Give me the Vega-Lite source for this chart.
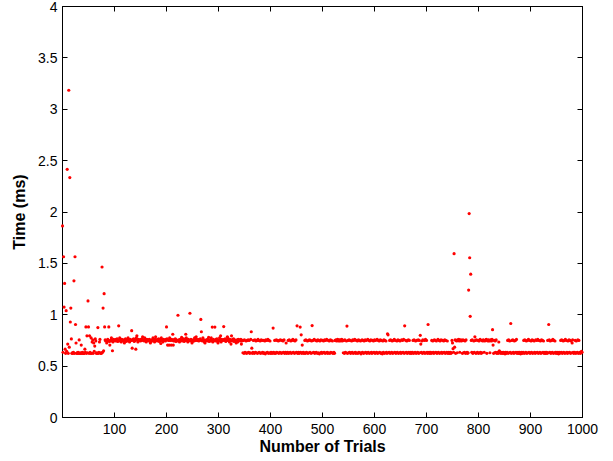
{
"$schema": "https://vega.github.io/schema/vega-lite/v6.json",
"width": 520, "height": 411,
"autosize": {"type": "none"},
"padding": {"left": 62, "top": 6, "right": 31, "bottom": 44},
"background": "white",
"config": {
  "view": {"stroke": "#000", "strokeWidth": 1},
  "axis": {"grid": false, "domainColor": "#000", "tickColor": "#000", "labelColor": "#000", "titleColor": "#000",
    "labelFont": "Liberation Sans", "labelFontSize": 14, "titleFont": "Liberation Sans", "titleFontSize": 16, "titleFontWeight": "bold",
    "tickSize": -5, "labelPadding": 10, "labelFlush": false, "labelOverlap": false}
},
"data": {"values": [
{"n":1,"ms":1.86},{"n":2,"ms":0.63},{"n":3,"ms":1.56},{"n":4,"ms":1.07},{"n":5,"ms":1.30},{"n":6,"ms":0.66},{"n":7,"ms":0.62},{"n":8,"ms":1.035},{"n":9,"ms":0.64},{"n":10,"ms":2.41},
{"n":11,"ms":0.71},{"n":12,"ms":0.62},{"n":13,"ms":3.18},{"n":14,"ms":0.68},{"n":15,"ms":2.33},{"n":16,"ms":0.925},{"n":17,"ms":1.06},{"n":18,"ms":0.76},{"n":19,"ms":0.62},{"n":20,"ms":0.625},
{"n":21,"ms":0.62},{"n":22,"ms":0.63},{"n":23,"ms":1.325},{"n":24,"ms":0.62},{"n":25,"ms":1.56},{"n":26,"ms":0.90},{"n":27,"ms":0.72},{"n":28,"ms":0.62},{"n":29,"ms":0.625},{"n":30,"ms":0.62},
{"n":31,"ms":0.63},{"n":32,"ms":0.62},{"n":33,"ms":0.75},{"n":34,"ms":0.62},{"n":35,"ms":0.625},{"n":36,"ms":0.62},{"n":37,"ms":0.70},{"n":38,"ms":0.62},{"n":39,"ms":0.63},{"n":40,"ms":0.62},
{"n":41,"ms":0.625},{"n":42,"ms":0.62},{"n":43,"ms":0.62},{"n":44,"ms":0.66},{"n":45,"ms":0.63},{"n":46,"ms":0.877},{"n":47,"ms":0.62},{"n":48,"ms":0.79},{"n":49,"ms":0.625},{"n":50,"ms":1.13},
{"n":51,"ms":0.877},{"n":52,"ms":0.62},{"n":53,"ms":0.79},{"n":54,"ms":0.63},{"n":55,"ms":0.62},{"n":56,"ms":0.77},{"n":57,"ms":0.62},{"n":58,"ms":0.73},{"n":59,"ms":0.75},{"n":60,"ms":0.62},
{"n":61,"ms":0.72},{"n":62,"ms":0.64},{"n":63,"ms":0.69},{"n":64,"ms":0.76},{"n":65,"ms":0.74},{"n":66,"ms":0.62},{"n":67,"ms":0.625},{"n":68,"ms":0.62},{"n":69,"ms":0.87},{"n":70,"ms":0.62},
{"n":71,"ms":0.63},{"n":72,"ms":0.73},{"n":73,"ms":0.755},{"n":74,"ms":0.62},{"n":75,"ms":0.625},{"n":76,"ms":0.62},{"n":77,"ms":1.46},{"n":78,"ms":0.63},{"n":79,"ms":1.06},{"n":80,"ms":0.645},
{"n":81,"ms":1.20},{"n":82,"ms":0.877},{"n":83,"ms":0.75},{"n":84,"ms":0.74},{"n":85,"ms":0.745},{"n":86,"ms":0.72},{"n":87,"ms":0.74},{"n":88,"ms":0.755},{"n":89,"ms":0.745},{"n":90,"ms":0.877},
{"n":91,"ms":0.735},{"n":92,"ms":0.70},{"n":93,"ms":0.745},{"n":94,"ms":0.74},{"n":95,"ms":0.77},{"n":96,"ms":0.745},{"n":97,"ms":0.645},{"n":98,"ms":0.73},{"n":99,"ms":0.755},{"n":100,"ms":0.745},
{"n":101,"ms":0.745},{"n":102,"ms":0.75},{"n":103,"ms":0.74},{"n":104,"ms":0.755},{"n":105,"ms":0.745},{"n":106,"ms":0.76},{"n":107,"ms":0.735},{"n":108,"ms":0.75},{"n":109,"ms":0.887},{"n":110,"ms":0.74},
{"n":111,"ms":0.77},{"n":112,"ms":0.745},{"n":113,"ms":0.75},{"n":114,"ms":0.73},{"n":115,"ms":0.755},{"n":116,"ms":0.745},{"n":117,"ms":0.745},{"n":118,"ms":0.75},{"n":119,"ms":0.74},{"n":120,"ms":0.72},
{"n":121,"ms":0.745},{"n":122,"ms":0.76},{"n":123,"ms":0.735},{"n":124,"ms":0.75},{"n":125,"ms":0.745},{"n":126,"ms":0.74},{"n":127,"ms":0.77},{"n":128,"ms":0.745},{"n":129,"ms":0.75},{"n":130,"ms":0.73},
{"n":131,"ms":0.755},{"n":132,"ms":0.745},{"n":133,"ms":0.745},{"n":134,"ms":0.84},{"n":135,"ms":0.67},{"n":136,"ms":0.755},{"n":137,"ms":0.745},{"n":138,"ms":0.76},{"n":139,"ms":0.735},{"n":140,"ms":0.75},
{"n":141,"ms":0.745},{"n":142,"ms":0.66},{"n":143,"ms":0.77},{"n":144,"ms":0.79},{"n":145,"ms":0.75},{"n":146,"ms":0.73},{"n":147,"ms":0.755},{"n":148,"ms":0.745},{"n":149,"ms":0.745},{"n":150,"ms":0.75},
{"n":151,"ms":0.74},{"n":152,"ms":0.755},{"n":153,"ms":0.745},{"n":154,"ms":0.76},{"n":155,"ms":0.78},{"n":156,"ms":0.75},{"n":157,"ms":0.745},{"n":158,"ms":0.74},{"n":159,"ms":0.77},{"n":160,"ms":0.745},
{"n":161,"ms":0.75},{"n":162,"ms":0.73},{"n":163,"ms":0.755},{"n":164,"ms":0.745},{"n":165,"ms":0.745},{"n":166,"ms":0.75},{"n":167,"ms":0.74},{"n":168,"ms":0.755},{"n":169,"ms":0.745},{"n":170,"ms":0.72},
{"n":171,"ms":0.735},{"n":172,"ms":0.75},{"n":173,"ms":0.745},{"n":174,"ms":0.74},{"n":175,"ms":0.77},{"n":176,"ms":0.745},{"n":177,"ms":0.75},{"n":178,"ms":0.73},{"n":179,"ms":0.755},{"n":180,"ms":0.78},
{"n":181,"ms":0.745},{"n":182,"ms":0.75},{"n":183,"ms":0.74},{"n":184,"ms":0.755},{"n":185,"ms":0.745},{"n":186,"ms":0.76},{"n":187,"ms":0.735},{"n":188,"ms":0.75},{"n":189,"ms":0.745},{"n":190,"ms":0.715},
{"n":191,"ms":0.77},{"n":192,"ms":0.745},{"n":193,"ms":0.75},{"n":194,"ms":0.73},{"n":195,"ms":0.755},{"n":196,"ms":0.745},{"n":197,"ms":0.745},{"n":198,"ms":0.75},{"n":199,"ms":0.74},{"n":200,"ms":0.755},
{"n":201,"ms":0.877},{"n":202,"ms":0.76},{"n":203,"ms":0.70},{"n":204,"ms":0.75},{"n":205,"ms":0.745},{"n":206,"ms":0.70},{"n":207,"ms":0.77},{"n":208,"ms":0.745},{"n":209,"ms":0.75},{"n":210,"ms":0.70},
{"n":211,"ms":0.755},{"n":212,"ms":0.745},{"n":213,"ms":0.805},{"n":214,"ms":0.70},{"n":215,"ms":0.74},{"n":216,"ms":0.755},{"n":217,"ms":0.745},{"n":218,"ms":0.76},{"n":219,"ms":0.735},{"n":220,"ms":0.75},
{"n":221,"ms":0.745},{"n":222,"ms":0.74},{"n":223,"ms":0.99},{"n":224,"ms":0.745},{"n":225,"ms":0.75},{"n":226,"ms":0.73},{"n":227,"ms":0.755},{"n":228,"ms":0.745},{"n":229,"ms":0.745},{"n":230,"ms":0.775},
{"n":231,"ms":0.74},{"n":232,"ms":0.755},{"n":233,"ms":0.745},{"n":234,"ms":0.76},{"n":235,"ms":0.735},{"n":236,"ms":0.75},{"n":237,"ms":0.745},{"n":238,"ms":0.805},{"n":239,"ms":0.77},{"n":240,"ms":0.745},
{"n":241,"ms":0.75},{"n":242,"ms":0.73},{"n":243,"ms":0.755},{"n":244,"ms":0.745},{"n":245,"ms":0.745},{"n":246,"ms":1.01},{"n":247,"ms":0.74},{"n":248,"ms":0.755},{"n":249,"ms":0.745},{"n":250,"ms":0.72},
{"n":251,"ms":0.735},{"n":252,"ms":0.75},{"n":253,"ms":0.745},{"n":254,"ms":0.74},{"n":255,"ms":0.77},{"n":256,"ms":0.745},{"n":257,"ms":0.75},{"n":258,"ms":0.78},{"n":259,"ms":0.755},{"n":260,"ms":0.745},
{"n":261,"ms":0.745},{"n":262,"ms":0.75},{"n":263,"ms":0.74},{"n":264,"ms":0.755},{"n":265,"ms":0.745},{"n":266,"ms":0.76},{"n":267,"ms":0.95},{"n":268,"ms":0.83},{"n":269,"ms":0.745},{"n":270,"ms":0.74},
{"n":271,"ms":0.77},{"n":272,"ms":0.745},{"n":273,"ms":0.75},{"n":274,"ms":0.73},{"n":275,"ms":0.72},{"n":276,"ms":0.745},{"n":277,"ms":0.745},{"n":278,"ms":0.75},{"n":279,"ms":0.74},{"n":280,"ms":0.755},
{"n":281,"ms":0.745},{"n":282,"ms":0.775},{"n":283,"ms":0.735},{"n":284,"ms":0.75},{"n":285,"ms":0.745},{"n":286,"ms":0.74},{"n":287,"ms":0.77},{"n":288,"ms":0.745},{"n":289,"ms":0.875},{"n":290,"ms":0.73},
{"n":291,"ms":0.755},{"n":292,"ms":0.745},{"n":293,"ms":0.745},{"n":294,"ms":0.875},{"n":295,"ms":0.74},{"n":296,"ms":0.755},{"n":297,"ms":0.745},{"n":298,"ms":0.76},{"n":299,"ms":0.735},{"n":300,"ms":0.72},
{"n":301,"ms":0.745},{"n":302,"ms":0.74},{"n":303,"ms":0.77},{"n":304,"ms":0.745},{"n":305,"ms":0.79},{"n":306,"ms":0.73},{"n":307,"ms":0.755},{"n":308,"ms":0.745},{"n":309,"ms":0.745},{"n":310,"ms":0.75},
{"n":311,"ms":0.88},{"n":312,"ms":0.755},{"n":313,"ms":0.745},{"n":314,"ms":0.76},{"n":315,"ms":0.735},{"n":316,"ms":0.75},{"n":317,"ms":0.745},{"n":318,"ms":0.78},{"n":319,"ms":0.77},{"n":320,"ms":0.745},
{"n":321,"ms":0.75},{"n":322,"ms":0.73},{"n":323,"ms":0.755},{"n":324,"ms":0.745},{"n":325,"ms":0.71},{"n":326,"ms":0.79},{"n":327,"ms":0.74},{"n":328,"ms":0.755},{"n":329,"ms":0.745},{"n":330,"ms":0.76},
{"n":331,"ms":0.735},{"n":332,"ms":0.75},{"n":333,"ms":0.745},{"n":334,"ms":0.74},{"n":335,"ms":0.72},{"n":336,"ms":0.745},{"n":337,"ms":0.75},{"n":338,"ms":0.73},{"n":339,"ms":0.755},{"n":340,"ms":0.745},
{"n":341,"ms":0.745},{"n":342,"ms":0.75},{"n":343,"ms":0.74},{"n":344,"ms":0.755},{"n":345,"ms":0.71},{"n":346,"ms":0.74},{"n":347,"ms":0.745},{"n":348,"ms":0.625},{"n":349,"ms":0.745},{"n":350,"ms":0.62},
{"n":351,"ms":0.75},{"n":352,"ms":0.63},{"n":353,"ms":0.625},{"n":354,"ms":0.74},{"n":355,"ms":0.62},{"n":356,"ms":0.745},{"n":357,"ms":0.625},{"n":358,"ms":0.75},{"n":359,"ms":0.63},{"n":360,"ms":0.745},
{"n":361,"ms":0.62},{"n":362,"ms":0.625},{"n":363,"ms":0.755},{"n":364,"ms":0.83},{"n":365,"ms":0.67},{"n":366,"ms":0.62},{"n":367,"ms":0.63},{"n":368,"ms":0.745},{"n":369,"ms":0.625},{"n":370,"ms":0.62},
{"n":371,"ms":0.75},{"n":372,"ms":0.63},{"n":373,"ms":0.74},{"n":374,"ms":0.625},{"n":375,"ms":0.745},{"n":376,"ms":0.62},{"n":377,"ms":0.755},{"n":378,"ms":0.745},{"n":379,"ms":0.63},{"n":380,"ms":0.625},
{"n":381,"ms":0.74},{"n":382,"ms":0.62},{"n":383,"ms":0.75},{"n":384,"ms":0.625},{"n":385,"ms":0.745},{"n":386,"ms":0.63},{"n":387,"ms":0.62},{"n":388,"ms":0.745},{"n":389,"ms":0.625},{"n":390,"ms":0.74},
{"n":391,"ms":0.615},{"n":392,"ms":0.75},{"n":393,"ms":0.625},{"n":394,"ms":0.745},{"n":395,"ms":0.63},{"n":396,"ms":0.755},{"n":397,"ms":0.62},{"n":398,"ms":0.745},{"n":399,"ms":0.625},{"n":400,"ms":0.74},
{"n":401,"ms":0.62},{"n":402,"ms":0.63},{"n":403,"ms":0.625},{"n":404,"ms":0.62},{"n":405,"ms":0.625},{"n":406,"ms":0.865},{"n":407,"ms":0.63},{"n":408,"ms":0.62},{"n":409,"ms":0.745},{"n":410,"ms":0.625},
{"n":411,"ms":0.62},{"n":412,"ms":0.75},{"n":413,"ms":0.63},{"n":414,"ms":0.745},{"n":415,"ms":0.625},{"n":416,"ms":0.74},{"n":417,"ms":0.62},{"n":418,"ms":0.745},{"n":419,"ms":0.63},{"n":420,"ms":0.75},
{"n":421,"ms":0.625},{"n":422,"ms":0.62},{"n":423,"ms":0.745},{"n":424,"ms":0.625},{"n":425,"ms":0.74},{"n":426,"ms":0.63},{"n":427,"ms":0.75},{"n":428,"ms":0.62},{"n":429,"ms":0.625},{"n":430,"ms":0.63},
{"n":431,"ms":0.72},{"n":432,"ms":0.62},{"n":433,"ms":0.625},{"n":434,"ms":0.63},{"n":435,"ms":0.745},{"n":436,"ms":0.62},{"n":437,"ms":0.75},{"n":438,"ms":0.625},{"n":439,"ms":0.63},{"n":440,"ms":0.74},
{"n":441,"ms":0.62},{"n":442,"ms":0.745},{"n":443,"ms":0.625},{"n":444,"ms":0.755},{"n":445,"ms":0.63},{"n":446,"ms":0.745},{"n":447,"ms":0.62},{"n":448,"ms":0.74},{"n":449,"ms":0.625},{"n":450,"ms":0.75},
{"n":451,"ms":0.63},{"n":452,"ms":0.887},{"n":453,"ms":0.62},{"n":454,"ms":0.625},{"n":455,"ms":0.63},{"n":456,"ms":0.62},{"n":457,"ms":0.625},{"n":458,"ms":0.875},{"n":459,"ms":0.63},{"n":460,"ms":0.80},
{"n":461,"ms":0.62},{"n":462,"ms":0.70},{"n":463,"ms":0.625},{"n":464,"ms":0.63},{"n":465,"ms":0.62},{"n":466,"ms":0.625},{"n":467,"ms":0.745},{"n":468,"ms":0.62},{"n":469,"ms":0.75},{"n":470,"ms":0.63},
{"n":471,"ms":0.625},{"n":472,"ms":0.74},{"n":473,"ms":0.62},{"n":474,"ms":0.745},{"n":475,"ms":0.625},{"n":476,"ms":0.75},{"n":477,"ms":0.63},{"n":478,"ms":0.745},{"n":479,"ms":0.62},{"n":480,"ms":0.74},
{"n":481,"ms":0.89},{"n":482,"ms":0.625},{"n":483,"ms":0.745},{"n":484,"ms":0.63},{"n":485,"ms":0.755},{"n":486,"ms":0.62},{"n":487,"ms":0.625},{"n":488,"ms":0.745},{"n":489,"ms":0.63},{"n":490,"ms":0.74},
{"n":491,"ms":0.62},{"n":492,"ms":0.75},{"n":493,"ms":0.625},{"n":494,"ms":0.745},{"n":495,"ms":0.615},{"n":496,"ms":0.74},{"n":497,"ms":0.625},{"n":498,"ms":0.75},{"n":499,"ms":0.63},{"n":500,"ms":0.62},
{"n":501,"ms":0.745},{"n":502,"ms":0.625},{"n":503,"ms":0.74},{"n":504,"ms":0.63},{"n":505,"ms":0.75},{"n":506,"ms":0.62},{"n":507,"ms":0.745},{"n":508,"ms":0.625},{"n":509,"ms":0.755},{"n":510,"ms":0.63},
{"n":511,"ms":0.62},{"n":512,"ms":0.745},{"n":513,"ms":0.625},{"n":514,"ms":0.74},{"n":515,"ms":0.62},{"n":516,"ms":0.75},{"n":517,"ms":0.63},{"n":518,"ms":0.745},{"n":519,"ms":0.625},{"n":520,"ms":0.74},
{"n":521,"ms":0.62},{"n":522,"ms":0.625},{"n":523,"ms":0.63},{"n":524,"ms":0.62},{"n":525,"ms":0.745},{"n":526,"ms":0.745},{"n":527,"ms":0.75},{"n":528,"ms":0.74},{"n":529,"ms":0.745},{"n":530,"ms":0.755},
{"n":531,"ms":0.745},{"n":532,"ms":0.74},{"n":533,"ms":0.75},{"n":534,"ms":0.745},{"n":535,"ms":0.74},{"n":536,"ms":0.75},{"n":537,"ms":0.745},{"n":538,"ms":0.755},{"n":539,"ms":0.74},{"n":540,"ms":0.745},
{"n":541,"ms":0.625},{"n":542,"ms":0.745},{"n":543,"ms":0.62},{"n":544,"ms":0.75},{"n":545,"ms":0.63},{"n":546,"ms":0.625},{"n":547,"ms":0.74},{"n":548,"ms":0.885},{"n":549,"ms":0.62},{"n":550,"ms":0.745},
{"n":551,"ms":0.625},{"n":552,"ms":0.75},{"n":553,"ms":0.63},{"n":554,"ms":0.745},{"n":555,"ms":0.62},{"n":556,"ms":0.625},{"n":557,"ms":0.74},{"n":558,"ms":0.63},{"n":559,"ms":0.75},{"n":560,"ms":0.62},
{"n":561,"ms":0.745},{"n":562,"ms":0.625},{"n":563,"ms":0.755},{"n":564,"ms":0.63},{"n":565,"ms":0.62},{"n":566,"ms":0.745},{"n":567,"ms":0.625},{"n":568,"ms":0.74},{"n":569,"ms":0.62},{"n":570,"ms":0.75},
{"n":571,"ms":0.63},{"n":572,"ms":0.745},{"n":573,"ms":0.625},{"n":574,"ms":0.74},{"n":575,"ms":0.615},{"n":576,"ms":0.625},{"n":577,"ms":0.75},{"n":578,"ms":0.63},{"n":579,"ms":0.745},{"n":580,"ms":0.62},
{"n":581,"ms":0.74},{"n":582,"ms":0.625},{"n":583,"ms":0.75},{"n":584,"ms":0.63},{"n":585,"ms":0.745},{"n":586,"ms":0.62},{"n":587,"ms":0.625},{"n":588,"ms":0.755},{"n":589,"ms":0.63},{"n":590,"ms":0.745},
{"n":591,"ms":0.62},{"n":592,"ms":0.74},{"n":593,"ms":0.625},{"n":594,"ms":0.75},{"n":595,"ms":0.63},{"n":596,"ms":0.62},{"n":597,"ms":0.745},{"n":598,"ms":0.625},{"n":599,"ms":0.74},{"n":600,"ms":0.63},
{"n":601,"ms":0.75},{"n":602,"ms":0.62},{"n":603,"ms":0.745},{"n":604,"ms":0.625},{"n":605,"ms":0.63},{"n":606,"ms":0.755},{"n":607,"ms":0.62},{"n":608,"ms":0.745},{"n":609,"ms":0.625},{"n":610,"ms":0.74},
{"n":611,"ms":0.63},{"n":612,"ms":0.75},{"n":613,"ms":0.62},{"n":614,"ms":0.745},{"n":615,"ms":0.625},{"n":616,"ms":0.615},{"n":617,"ms":0.74},{"n":618,"ms":0.63},{"n":619,"ms":0.75},{"n":620,"ms":0.62},
{"n":621,"ms":0.745},{"n":622,"ms":0.625},{"n":623,"ms":0.74},{"n":624,"ms":0.63},{"n":625,"ms":0.62},{"n":626,"ms":0.81},{"n":627,"ms":0.80},{"n":628,"ms":0.625},{"n":629,"ms":0.63},{"n":630,"ms":0.745},
{"n":631,"ms":0.62},{"n":632,"ms":0.75},{"n":633,"ms":0.625},{"n":634,"ms":0.63},{"n":635,"ms":0.74},{"n":636,"ms":0.62},{"n":637,"ms":0.745},{"n":638,"ms":0.625},{"n":639,"ms":0.755},{"n":640,"ms":0.63},
{"n":641,"ms":0.745},{"n":642,"ms":0.62},{"n":643,"ms":0.625},{"n":644,"ms":0.74},{"n":645,"ms":0.63},{"n":646,"ms":0.75},{"n":647,"ms":0.62},{"n":648,"ms":0.745},{"n":649,"ms":0.625},{"n":650,"ms":0.74},
{"n":651,"ms":0.63},{"n":652,"ms":0.62},{"n":653,"ms":0.75},{"n":654,"ms":0.625},{"n":655,"ms":0.745},{"n":656,"ms":0.63},{"n":657,"ms":0.755},{"n":658,"ms":0.62},{"n":659,"ms":0.887},{"n":660,"ms":0.625},
{"n":661,"ms":0.745},{"n":662,"ms":0.63},{"n":663,"ms":0.74},{"n":664,"ms":0.62},{"n":665,"ms":0.625},{"n":666,"ms":0.75},{"n":667,"ms":0.63},{"n":668,"ms":0.745},{"n":669,"ms":0.62},{"n":670,"ms":0.625},
{"n":671,"ms":0.63},{"n":672,"ms":0.62},{"n":673,"ms":0.625},{"n":674,"ms":0.63},{"n":675,"ms":0.745},{"n":676,"ms":0.62},{"n":677,"ms":0.75},{"n":678,"ms":0.625},{"n":679,"ms":0.63},{"n":680,"ms":0.74},
{"n":681,"ms":0.62},{"n":682,"ms":0.745},{"n":683,"ms":0.625},{"n":684,"ms":0.63},{"n":685,"ms":0.75},{"n":686,"ms":0.62},{"n":687,"ms":0.745},{"n":688,"ms":0.625},{"n":689,"ms":0.795},{"n":690,"ms":0.71},
{"n":691,"ms":0.63},{"n":692,"ms":0.74},{"n":693,"ms":0.62},{"n":694,"ms":0.75},{"n":695,"ms":0.625},{"n":696,"ms":0.63},{"n":697,"ms":0.745},{"n":698,"ms":0.62},{"n":699,"ms":0.755},{"n":700,"ms":0.625},
{"n":701,"ms":0.745},{"n":702,"ms":0.63},{"n":703,"ms":0.62},{"n":704,"ms":0.90},{"n":705,"ms":0.625},{"n":706,"ms":0.63},{"n":707,"ms":0.62},{"n":708,"ms":0.625},{"n":709,"ms":0.63},{"n":710,"ms":0.62},
{"n":711,"ms":0.745},{"n":712,"ms":0.625},{"n":713,"ms":0.74},{"n":714,"ms":0.63},{"n":715,"ms":0.62},{"n":716,"ms":0.75},{"n":717,"ms":0.625},{"n":718,"ms":0.745},{"n":719,"ms":0.63},{"n":720,"ms":0.74},
{"n":721,"ms":0.62},{"n":722,"ms":0.625},{"n":723,"ms":0.755},{"n":724,"ms":0.63},{"n":725,"ms":0.745},{"n":726,"ms":0.62},{"n":727,"ms":0.74},{"n":728,"ms":0.625},{"n":729,"ms":0.75},{"n":730,"ms":0.63},
{"n":731,"ms":0.62},{"n":732,"ms":0.745},{"n":733,"ms":0.625},{"n":734,"ms":0.74},{"n":735,"ms":0.63},{"n":736,"ms":0.75},{"n":737,"ms":0.62},{"n":738,"ms":0.745},{"n":739,"ms":0.625},{"n":740,"ms":0.63},
{"n":741,"ms":0.74},{"n":742,"ms":0.62},{"n":743,"ms":0.625},{"n":744,"ms":0.63},{"n":745,"ms":0.62},{"n":746,"ms":0.625},{"n":747,"ms":0.63},{"n":748,"ms":0.62},{"n":749,"ms":0.625},{"n":750,"ms":0.745},
{"n":751,"ms":0.72},{"n":752,"ms":0.665},{"n":753,"ms":0.63},{"n":754,"ms":1.59},{"n":755,"ms":0.68},{"n":756,"ms":0.75},{"n":757,"ms":0.62},{"n":758,"ms":0.745},{"n":759,"ms":0.74},{"n":760,"ms":0.625},
{"n":761,"ms":0.75},{"n":762,"ms":0.745},{"n":763,"ms":0.755},{"n":764,"ms":0.74},{"n":765,"ms":0.63},{"n":766,"ms":0.745},{"n":767,"ms":0.75},{"n":768,"ms":0.74},{"n":769,"ms":0.745},{"n":770,"ms":0.62},
{"n":771,"ms":0.75},{"n":772,"ms":0.625},{"n":773,"ms":0.745},{"n":774,"ms":0.63},{"n":775,"ms":0.74},{"n":776,"ms":0.62},{"n":777,"ms":0.75},{"n":778,"ms":0.625},{"n":779,"ms":0.63},{"n":780,"ms":0.62},
{"n":781,"ms":0.625},{"n":782,"ms":1.235},{"n":783,"ms":1.98},{"n":784,"ms":1.55},{"n":785,"ms":0.98},{"n":786,"ms":1.39},{"n":787,"ms":0.745},{"n":788,"ms":0.63},{"n":789,"ms":0.75},{"n":790,"ms":0.62},
{"n":791,"ms":0.625},{"n":792,"ms":0.74},{"n":793,"ms":0.63},{"n":794,"ms":0.78},{"n":795,"ms":0.745},{"n":796,"ms":0.62},{"n":797,"ms":0.75},{"n":798,"ms":0.625},{"n":799,"ms":0.63},{"n":800,"ms":0.745},
{"n":801,"ms":0.62},{"n":802,"ms":0.74},{"n":803,"ms":0.625},{"n":804,"ms":0.755},{"n":805,"ms":0.63},{"n":806,"ms":0.62},{"n":807,"ms":0.745},{"n":808,"ms":0.625},{"n":809,"ms":0.74},{"n":810,"ms":0.75},
{"n":811,"ms":0.745},{"n":812,"ms":0.63},{"n":813,"ms":0.74},{"n":814,"ms":0.745},{"n":815,"ms":0.75},{"n":816,"ms":0.755},{"n":817,"ms":0.62},{"n":818,"ms":0.745},{"n":819,"ms":0.74},{"n":820,"ms":0.75},
{"n":821,"ms":0.745},{"n":822,"ms":0.74},{"n":823,"ms":0.625},{"n":824,"ms":0.75},{"n":825,"ms":0.745},{"n":826,"ms":0.74},{"n":827,"ms":0.755},{"n":828,"ms":0.85},{"n":829,"ms":0.70},{"n":830,"ms":0.62},
{"n":831,"ms":0.745},{"n":832,"ms":0.625},{"n":833,"ms":0.74},{"n":834,"ms":0.63},{"n":835,"ms":0.75},{"n":836,"ms":0.62},{"n":837,"ms":0.625},{"n":838,"ms":0.63},{"n":839,"ms":0.62},{"n":840,"ms":0.73},
{"n":841,"ms":0.645},{"n":842,"ms":0.625},{"n":843,"ms":0.63},{"n":844,"ms":0.62},{"n":845,"ms":0.625},{"n":846,"ms":0.63},{"n":847,"ms":0.62},{"n":848,"ms":0.625},{"n":849,"ms":0.63},{"n":850,"ms":0.62},
{"n":851,"ms":0.625},{"n":852,"ms":0.615},{"n":853,"ms":0.63},{"n":854,"ms":0.62},{"n":855,"ms":0.625},{"n":856,"ms":0.63},{"n":857,"ms":0.745},{"n":858,"ms":0.62},{"n":859,"ms":0.75},{"n":860,"ms":0.625},
{"n":861,"ms":0.74},{"n":862,"ms":0.63},{"n":863,"ms":0.91},{"n":864,"ms":0.62},{"n":865,"ms":0.745},{"n":866,"ms":0.625},{"n":867,"ms":0.75},{"n":868,"ms":0.63},{"n":869,"ms":0.62},{"n":870,"ms":0.74},
{"n":871,"ms":0.625},{"n":872,"ms":0.745},{"n":873,"ms":0.63},{"n":874,"ms":0.755},{"n":875,"ms":0.62},{"n":876,"ms":0.625},{"n":877,"ms":0.63},{"n":878,"ms":0.62},{"n":879,"ms":0.625},{"n":880,"ms":0.63},
{"n":881,"ms":0.62},{"n":882,"ms":0.615},{"n":883,"ms":0.625},{"n":884,"ms":0.63},{"n":885,"ms":0.62},{"n":886,"ms":0.625},{"n":887,"ms":0.63},{"n":888,"ms":0.745},{"n":889,"ms":0.62},{"n":890,"ms":0.75},
{"n":891,"ms":0.625},{"n":892,"ms":0.63},{"n":893,"ms":0.74},{"n":894,"ms":0.62},{"n":895,"ms":0.745},{"n":896,"ms":0.625},{"n":897,"ms":0.755},{"n":898,"ms":0.63},{"n":899,"ms":0.745},{"n":900,"ms":0.62},
{"n":901,"ms":0.625},{"n":902,"ms":0.74},{"n":903,"ms":0.63},{"n":904,"ms":0.75},{"n":905,"ms":0.62},{"n":906,"ms":0.745},{"n":907,"ms":0.625},{"n":908,"ms":0.74},{"n":909,"ms":0.63},{"n":910,"ms":0.62},
{"n":911,"ms":0.75},{"n":912,"ms":0.625},{"n":913,"ms":0.745},{"n":914,"ms":0.63},{"n":915,"ms":0.755},{"n":916,"ms":0.62},{"n":917,"ms":0.745},{"n":918,"ms":0.625},{"n":919,"ms":0.63},{"n":920,"ms":0.74},
{"n":921,"ms":0.62},{"n":922,"ms":0.75},{"n":923,"ms":0.625},{"n":924,"ms":0.745},{"n":925,"ms":0.63},{"n":926,"ms":0.74},{"n":927,"ms":0.62},{"n":928,"ms":0.625},{"n":929,"ms":0.63},{"n":930,"ms":0.62},
{"n":931,"ms":0.625},{"n":932,"ms":0.63},{"n":933,"ms":0.62},{"n":934,"ms":0.745},{"n":935,"ms":0.625},{"n":936,"ms":0.90},{"n":937,"ms":0.75},{"n":938,"ms":0.63},{"n":939,"ms":0.74},{"n":940,"ms":0.62},
{"n":941,"ms":0.625},{"n":942,"ms":0.745},{"n":943,"ms":0.63},{"n":944,"ms":0.755},{"n":945,"ms":0.62},{"n":946,"ms":0.745},{"n":947,"ms":0.625},{"n":948,"ms":0.74},{"n":949,"ms":0.63},{"n":950,"ms":0.62},
{"n":951,"ms":0.625},{"n":952,"ms":0.63},{"n":953,"ms":0.62},{"n":954,"ms":0.625},{"n":955,"ms":0.615},{"n":956,"ms":0.63},{"n":957,"ms":0.62},{"n":958,"ms":0.625},{"n":959,"ms":0.745},{"n":960,"ms":0.63},
{"n":961,"ms":0.75},{"n":962,"ms":0.62},{"n":963,"ms":0.625},{"n":964,"ms":0.74},{"n":965,"ms":0.63},{"n":966,"ms":0.745},{"n":967,"ms":0.62},{"n":968,"ms":0.755},{"n":969,"ms":0.625},{"n":970,"ms":0.745},
{"n":971,"ms":0.63},{"n":972,"ms":0.62},{"n":973,"ms":0.74},{"n":974,"ms":0.625},{"n":975,"ms":0.75},{"n":976,"ms":0.63},{"n":977,"ms":0.745},{"n":978,"ms":0.62},{"n":979,"ms":0.74},{"n":980,"ms":0.625},
{"n":981,"ms":0.72},{"n":982,"ms":0.75},{"n":983,"ms":0.63},{"n":984,"ms":0.62},{"n":985,"ms":0.625},{"n":986,"ms":0.63},{"n":987,"ms":0.745},{"n":988,"ms":0.62},{"n":989,"ms":0.74},{"n":990,"ms":0.625},
{"n":991,"ms":0.63},{"n":992,"ms":0.75},{"n":993,"ms":0.62},{"n":994,"ms":0.745},{"n":995,"ms":0.625},{"n":996,"ms":0.63},{"n":997,"ms":0.62},{"n":998,"ms":0.625},{"n":999,"ms":0.64},{"n":1000,"ms":0.63}
]},
"layer": [
  {
    "mark": {"type": "point", "filled": true, "color": "#ff0000", "size": 10, "opacity": 1, "strokeWidth": 0},
    "encoding": {
      "x": {"field": "n", "type": "quantitative", "scale": {"domain": [0, 1000], "nice": false, "zero": false},
        "axis": {"title": "Number of Trials", "format": "d", "values": [100,200,300,400,500,600,700,800,900,1000], "titlePadding": 2}},
      "y": {"field": "ms", "type": "quantitative", "scale": {"domain": [0, 4], "nice": false},
        "axis": {"title": "Time (ms)", "format": "~g", "values": [0,0.5,1,1.5,2,2.5,3,3.5,4], "titlePadding": 10, "labelOffset": 1}}
    }
  },
  {
    "mark": {"type": "point", "opacity": 0},
    "encoding": {
      "x": {"field": "n", "type": "quantitative",
        "axis": {"orient": "top", "title": null, "labels": false, "values": [100,200,300,400,500,600,700,800,900,1000]}},
      "y": {"field": "ms", "type": "quantitative",
        "axis": {"orient": "right", "title": null, "labels": false, "values": [0,0.5,1,1.5,2,2.5,3,3.5,4]}}
    }
  }
],
"resolve": {"axis": {"x": "independent", "y": "independent"}}
}
